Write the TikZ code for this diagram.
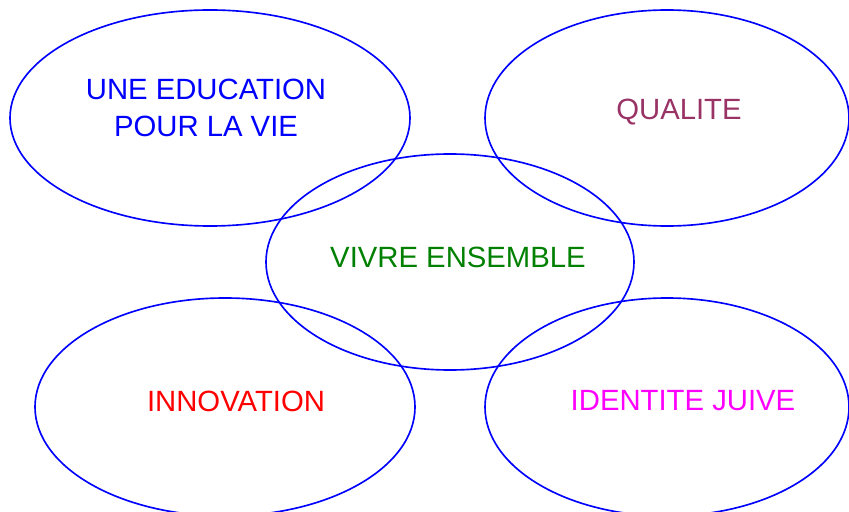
\documentclass[tikz,border=0pt]{standalone}
\usepackage{fontspec}
\setmainfont{Liberation Sans}
\usepackage{tikz}
\definecolor{ringblue}{RGB}{0,0,255}
\definecolor{plum}{RGB}{153,51,102}
\definecolor{leafgreen}{RGB}{0,128,0}
\definecolor{brightred}{RGB}{255,0,0}
\definecolor{pinkish}{RGB}{255,0,255}
\begin{document}
\begin{tikzpicture}[x=0.03cm, y=-0.03cm,
  ring/.style={draw=ringblue, line width=1.4pt},
  label/.style={font=\fontsize{25}{31}\selectfont, align=center, inner sep=0pt}]
  \useasboundingbox (0,0) rectangle (849,512);
  \draw[ring] (210,118) ellipse (200 and 108);
  \draw[ring] (667,118) ellipse (182 and 108);
  \draw[ring] (450,262) ellipse (184 and 108);
  \draw[ring] (225,407) ellipse (190 and 109);
  \draw[ring] (667,407) ellipse (182 and 109);
  \node[label, text=ringblue] (educ) at (206,108) {UNE EDUCATION\\POUR LA VIE};
  \node[label, text=plum] (qual) at (679,112) {QUALITE};
  \node[label, text=leafgreen] (vivre) at (458,257) {VIVRE ENSEMBLE};
  \node[label, text=brightred] (innov) at (236,401) {INNOVATION};
  \node[label, text=pinkish] (ident) at (683,401) {IDENTITE JUIVE};
\end{tikzpicture}
\end{document}
